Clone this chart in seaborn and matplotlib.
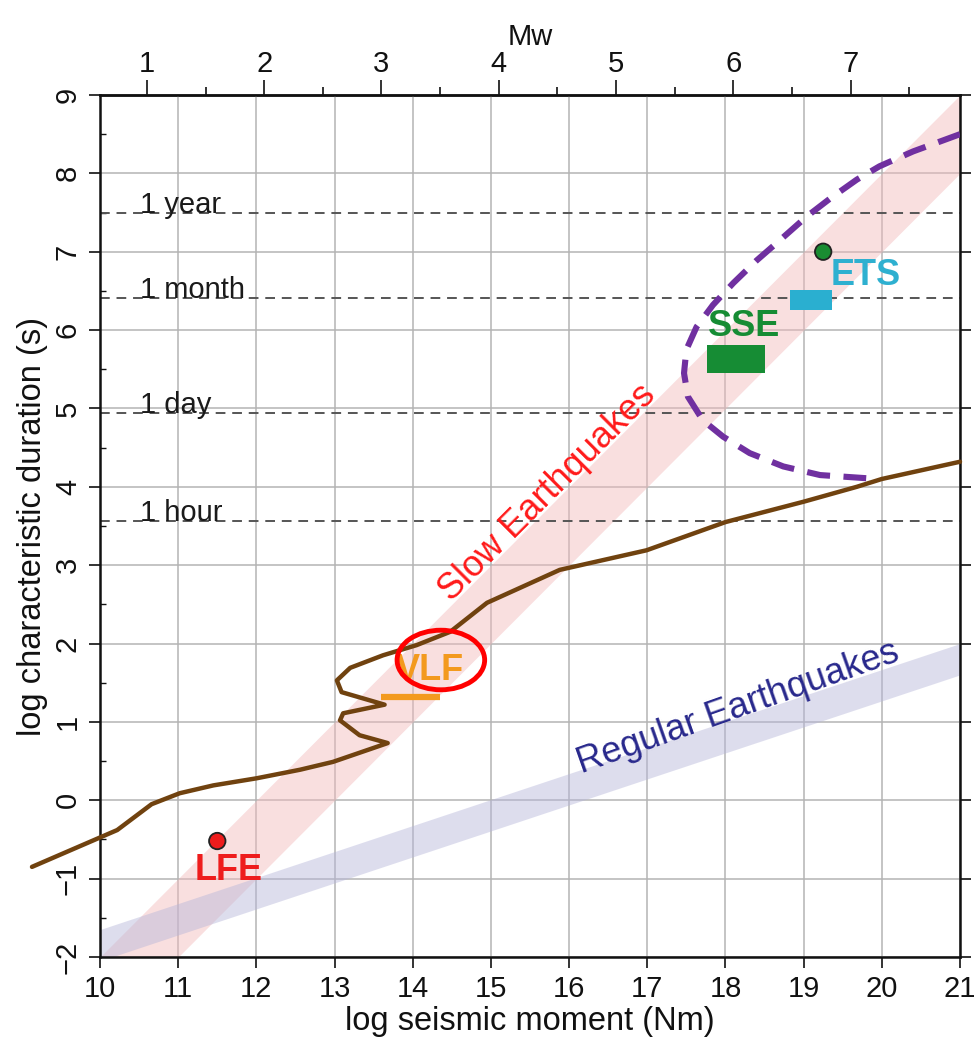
import numpy as np
import pandas as pd
import matplotlib
matplotlib.use("Agg")
import matplotlib.pyplot as plt
import seaborn as sns
from matplotlib.patches import Ellipse, Rectangle

# ---------------- data ----------------
x_ticks = list(range(10, 22))
y_ticks = list(range(-2, 10))
mw_ticks = [1, 2, 3, 4, 5, 6, 7]
mw_minor = [1.5, 2.5, 3.5, 4.5, 5.5, 6.5, 7.5]

slow_x = [10, 21]
slow_lower = [-3, 8]
slow_upper = [-2, 9]

regular_x = [10, 21]
regular_lower = [-2.05, 1.6]
regular_upper = [-1.65, 2.0]

brown_x = [9.13, 10.22, 10.66, 11.02, 11.45, 12.0, 12.56, 12.98, 13.68, 13.32,
           13.07, 13.11, 13.64, 13.09, 13.03, 13.2, 13.62, 14.05, 14.48, 14.95,
           15.88, 16.99, 18.0, 19.0, 19.68, 20.0, 21.0]
brown_y = [-0.85, -0.38, -0.05, 0.09, 0.19, 0.28, 0.39, 0.49, 0.73, 0.83,
           1.02, 1.11, 1.22, 1.38, 1.53, 1.69, 1.85, 1.98, 2.15, 2.52,
           2.94, 3.19, 3.55, 3.81, 4.0, 4.1, 4.32]

purple_x = [21.0, 20.40, 19.97, 19.68, 19.34, 19.04, 18.70, 18.40, 18.10, 17.84,
            17.63, 17.50, 17.47, 17.52, 17.71, 17.97, 18.31, 18.74, 19.21, 19.80]
purple_y = [8.50, 8.28, 8.09, 7.92, 7.68, 7.45, 7.15, 6.89, 6.60, 6.32,
            6.04, 5.75, 5.45, 5.15, 4.85, 4.64, 4.43, 4.26, 4.15, 4.11]

time_labels = ["1 year", "1 month", "1 day", "1 hour"]
time_values = [7.5, 6.41, 4.94, 3.56]

point_names = ["LFE", "ETS"]
point_x = [11.5, 19.25]
point_y = [-0.52, 7.0]
point_colors = ["#EE1C1C", "#1A8C32"]

sse_box = [17.76, 5.45, 18.5, 5.81]   # x0, y0, x1, y1
ets_box = [18.82, 6.26, 19.36, 6.51]
vlf_bar_x = [13.6, 14.35]
vlf_bar_y = 1.32
vlf_circle = [14.36, 1.79, 1.12, 0.76]

# ---------------- style ----------------
sns.set_theme(style="white")
plt.rcParams['font.family'] = ['Liberation Sans', 'DejaVu Sans']
plt.rcParams['axes.unicode_minus'] = True
plt.rcParams['text.color'] = '#111111'
plt.rcParams['axes.labelcolor'] = '#111111'
plt.rcParams['xtick.color'] = '#111111'
plt.rcParams['ytick.color'] = '#111111'

fig = plt.figure(figsize=(9.75, 10.48), dpi=100)
ax = fig.add_axes([100/975, 1-957/1048, 860/975, 862/1048])

ax.set_xlim(10, 21)
ax.set_ylim(-2, 9)
ax.set_axisbelow(True)
ax.grid(True, color="#b4b4b4", linewidth=1.1)

# bands
ax.fill_between(slow_x, slow_lower, slow_upper, color="#F2B8BA", alpha=0.45,
                linewidth=0, zorder=1)
ax.fill_between(regular_x, regular_lower, regular_upper, color="#B5B5D9",
                alpha=0.45, linewidth=0, zorder=1)

# time lines
for lab, v in zip(time_labels, time_values):
    ax.axhline(v, color="#555555", linewidth=1.4, linestyle=(0, (5, 3.5)), zorder=2)
    ax.text(10.51, v, lab, fontsize=21, color="#1a1a1a", ha="left",
            va="baseline", zorder=6)

# brown line
df_b = pd.DataFrame({"x": brown_x, "y": brown_y})
sns.lineplot(data=df_b, x="x", y="y", sort=False, estimator=None, ax=ax,
             color="#70420F", linewidth=3.2, zorder=4)
ax.lines[-1].set_clip_on(False)

# purple dashed curve
df_p = pd.DataFrame({"x": purple_x, "y": purple_y})
sns.lineplot(data=df_p, x="x", y="y", sort=False, estimator=None, ax=ax,
             color="#7030A0", linewidth=4.4, zorder=5)
ax.lines[-1].set_linestyle((0, (3.8, 2.2)))

# boxes
ax.add_patch(Rectangle((sse_box[0], sse_box[1]), sse_box[2]-sse_box[0],
                       sse_box[3]-sse_box[1], color="#168C34", zorder=4, lw=0))
ax.add_patch(Rectangle((ets_box[0], ets_box[1]), ets_box[2]-ets_box[0],
                       ets_box[3]-ets_box[1], color="#2AAFD0", zorder=4, lw=0))
ax.plot(vlf_bar_x, [vlf_bar_y, vlf_bar_y], color="#F39A1E", linewidth=4.5,
        solid_capstyle="butt", zorder=4)

# points
df_pts = pd.DataFrame({"x": point_x, "y": point_y, "name": point_names})
sns.scatterplot(data=df_pts, x="x", y="y", hue="name",
                palette=dict(zip(point_names, point_colors)), s=140,
                edgecolor="#222222", linewidth=1.3, legend=False, ax=ax, zorder=7)

# labels
ax.text(11.64, -0.89, "LFE", color="#EE1C1C", fontsize=26, fontweight="bold",
        ha="center", va="center", zorder=8)
ax.text(18.24, 6.05, "SSE", color="#168C34", fontsize=26, fontweight="bold",
        ha="center", va="center", zorder=8)
ax.text(19.80, 6.70, "ETS", color="#2EB0D0", fontsize=26, fontweight="bold",
        ha="center", va="center", zorder=8)
ax.text(14.22, 1.65, "VLF", color="#F39A1E", fontsize=26, fontweight="bold",
        ha="center", va="center", zorder=8)
ax.add_patch(Ellipse((vlf_circle[0], vlf_circle[1]), vlf_circle[2], vlf_circle[3],
                     fill=False, edgecolor="#FF0000", linewidth=3.5, zorder=9))

ax.text(15.72, 3.92, "Slow Earthquakes", color="#FF1A1A", fontsize=26,
        rotation=45, ha="center", va="center", rotation_mode="anchor", zorder=8)
ax.text(18.16, 1.18, "Regular Earthquakes", color="#28288C", fontsize=26,
        rotation=19.5, ha="center", va="center", rotation_mode="anchor", zorder=8)

# axes cosmetics
for s in ax.spines.values():
    s.set_visible(True)
    s.set_color("#111111")
    s.set_linewidth(1.8)

ax.set_xticks(x_ticks)
ax.set_yticks(y_ticks)
ax.set_yticks([v + 0.5 for v in y_ticks[:-1]], minor=True)
ax.tick_params(axis="both", which="major", direction="out", length=8, width=1.2,
               color="#111111", labelcolor="#111111", labelsize=21, pad=5)
ax.tick_params(axis="y", which="major", right=True, left=True)
ax.tick_params(axis="y", which="minor", direction="in", length=4, width=1,
               left=True, right=False)
ax.tick_params(axis="x", which="both", bottom=True, top=False)
for t in ax.get_yticklabels():
    t.set_rotation(90)
    t.set_va("center")
ax.set_xlabel("log seismic moment (Nm)", fontsize=23.5, labelpad=2)
ax.set_ylabel("log characteristic duration (s)", fontsize=23.5, labelpad=4)

secax = ax.secondary_xaxis("top", functions=(lambda x: (x - 9.1) * 2 / 3,
                                             lambda m: 1.5 * m + 9.1))
secax.set_xticks(mw_ticks)
secax.set_xticks(mw_minor, minor=True)
secax.tick_params(which="major", direction="out", length=11, width=1.2,
                  labelsize=21, pad=1, color="#111111", labelcolor="#111111")
secax.tick_params(which="minor", direction="out", length=6, width=1.2,
                  color="#111111")
secax.spines["top"].set_linewidth(1.8)
secax.set_xlabel("Mw", fontsize=21, labelpad=4)

fig.savefig("out.png", dpi=100)
